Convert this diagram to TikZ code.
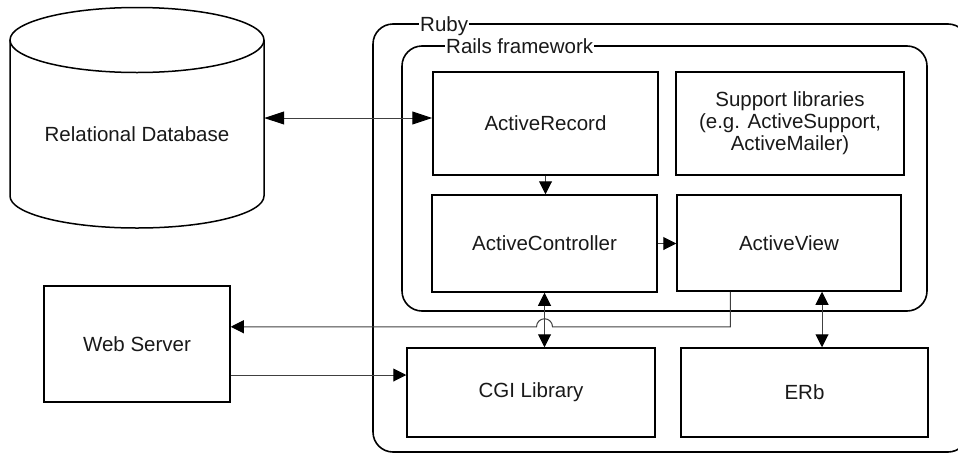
\documentclass[tikz,border=0pt]{standalone}
\usepackage{fontspec}
\setmainfont{Liberation Sans}
\usetikzlibrary{arrows.meta,calc}
\begin{document}
\begin{tikzpicture}[x=1pt,y=-1pt,
  txt/.style={font=\fontsize{20.5}{22}\selectfont, text=black!90},
  box/.style={txt, draw=black, line width=1.5pt, rectangle, inner sep=0pt, align=center},
  group/.style={draw=black, line width=1.6pt, rounded corners=20pt},
  grouplabel/.style={txt, fill=white, inner xsep=1pt, inner ysep=0pt, anchor=base west},
  conn/.style={draw=black!75, line width=1pt},
  tipa/.style={Triangle[length=13pt,width=13pt,color=black]},
  tipb/.style={Triangle[length=20pt,width=13pt,color=black]}
]
\useasboundingbox (0,0) rectangle (958,453);
\clip (0,0) rectangle (958,453);

% containers
\draw[group] (373,24) rectangle (968,452);
\node[grouplabel] (rubylbl) at (419,31) {Ruby};
\draw[group] (402,46) rectangle (927,311);
\node[grouplabel] (railslbl) at (445,53) {Rails framework};

% database cylinder
\draw[line width=1.5pt] (10,40) -- (10,196)
  arc[start angle=180, end angle=360, x radius=127pt, y radius=32pt] -- (264,40);
\draw[line width=1.5pt] (137,40) ellipse[x radius=127pt, y radius=32.5pt];
\node[txt, minimum width=254pt, minimum height=188pt, inner sep=0pt] (db) at (137,134) {Relational Database};

% boxes
\node[box, minimum width=225pt, minimum height=103pt] (ar) at (545.5,123.5) {ActiveRecord};
\node[box, minimum width=228pt, minimum height=103pt] (sup) at (790,123.5)
  {Support libraries\\(e.g. ActiveSupport,\\ActiveMailer)};
\node[box, minimum width=225pt, minimum height=97pt] (ac) at (544.5,243.5) {ActiveController};
\node[box, minimum width=224pt, minimum height=96pt] (av) at (789,243) {ActiveView};
\node[box, minimum width=248pt, minimum height=89pt] (cgi) at (531,392.5) {CGI Library};
\node[box, minimum width=247pt, minimum height=89pt] (erb) at (804.5,392.5) {ERb};
\node[box, minimum width=186pt, minimum height=116pt] (ws) at (137,344) {Web Server};

% connectors
\coordinate (dbar) at (433,118);
\draw[conn, {Triangle[length=20pt,width=13pt,color=black]}-{Triangle[length=20pt,width=13pt,color=black]}]
  (dbar -| db.east) -- (dbar -| ar.west);
\draw[conn, -{Triangle[length=13pt,width=13pt,color=black]}] (ar.south) -- (ar.south |- ac.north);
\draw[conn, -{Triangle[length=13pt,width=13pt,color=black]}] (ac.east) -- (ac.east -| av.west);
\draw[conn, {Triangle[length=13pt,width=13pt,color=black]}-{Triangle[length=13pt,width=13pt,color=black]}]
  (ac.south) -- (ac.south |- cgi.north);
\coordinate (ve) at ($(av.south)+(33,0)$);
\draw[conn, {Triangle[length=13pt,width=13pt,color=black]}-{Triangle[length=13pt,width=13pt,color=black]}]
  (ve) -- (ve |- erb.north);
\coordinate (avout) at ($(av.south west)+(54,0)$);
\coordinate (turn) at ($(avout)+(0,35)$);
\coordinate (hopc) at (ac.south |- turn);
\draw[conn, -{Triangle[length=13pt,width=13pt,color=black]}]
  (avout) -- (turn) -- ($(hopc)+(8,0)$)
  arc[start angle=0, end angle=180, radius=8pt] -- (turn -| ws.east);
\coordinate (wsout) at ($(ws.east)+(0,31)$);
\draw[conn, -{Triangle[length=13pt,width=13pt,color=black]}] (wsout) -- (wsout -| cgi.west);
\end{tikzpicture}
\end{document}
